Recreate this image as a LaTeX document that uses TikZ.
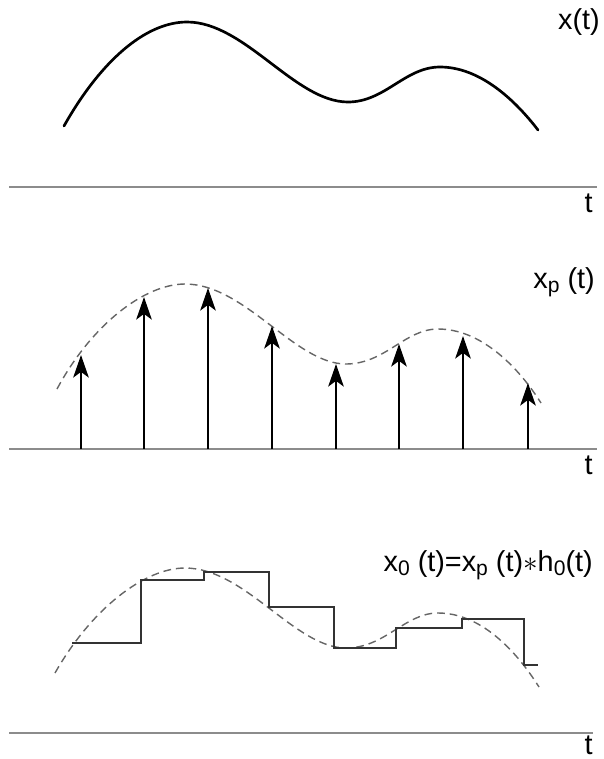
\documentclass[tikz,border=0pt]{standalone}
\usepackage{fontspec}
\setmainfont{Liberation Sans}
\usetikzlibrary{arrows.meta}

% lowered subscript as printed in the labels
\newcommand{\lowsub}[1]{\raisebox{-3pt}{\fontsize{15}{15}\selectfont #1}}

\begin{document}
\begin{tikzpicture}[
            x=0.025cm, y=-0.025cm,
            >={Stealth[length=16pt, width=11pt, inset=4pt]},
            axis/.style={draw=black!45, line width=1.4pt},
            signal/.style={line width=1.9pt, line cap=round},
            envelope/.style={draw=black!60, line width=1pt, dash pattern=on 5.5pt off 3.5pt},
            impulse/.style={->, line width=1.8pt},
            hold/.style={draw=black!80, line width=1.5pt},
            lbl/.style={font=\fontsize{20.5}{24}\selectfont, inner sep=0pt}
        ]

            \useasboundingbox (0,0) rectangle (604,759);

            % Top panel: continuous signal
            \begin{scope}[shift={(0,187)}]
                \draw[axis] (9,0) -- (597,0);
                \draw[signal] (64,-61) .. controls (100,-125) and (145,-165) .. (187,-165)
                    .. controls (245,-165) and (295,-85) .. (348,-85)
                    .. controls (385,-85) and (405,-120) .. (440,-120)
                    .. controls (480,-120) and (515,-87) .. (538,-57);
                \node[lbl, anchor=base east] (xlbl) at (600,-158) {x(t)};
                \node[lbl, anchor=base east] (tone) at (593,25) {t};
            \end{scope}

            % Middle panel: impulse train
            \begin{scope}[shift={(0,449)}]
                \draw[axis] (9,0) -- (597,0);
                \draw[envelope] (57,-60) .. controls (92,-125) and (145,-165) .. (185,-165)
                    .. controls (245,-165) and (295,-85) .. (346,-85)
                    .. controls (385,-85) and (405,-120) .. (438,-120)
                    .. controls (480,-120) and (517,-84) .. (541,-46);
                \draw[impulse] (81,0) -- (81,-94);
                \draw[impulse] (144,0) -- (144,-152);
                \draw[impulse] (208,0) -- (208,-161);
                \draw[impulse] (272,0) -- (272,-123);
                \draw[impulse] (336,0) -- (336,-85);
                \draw[impulse] (399,0) -- (399,-105);
                \draw[impulse] (463,0) -- (463,-113);
                \draw[impulse] (528,0) -- (528,-66);
                \node[lbl, anchor=base east] (xplbl) at (595,-161) {x\lowsub{p} (t)};
                \node[lbl, anchor=base east] (ttwo) at (593,25) {t};
            \end{scope}

            % Bottom panel: zero-order hold
            \begin{scope}[shift={(0,733)}]
                \draw[axis] (9,0) -- (593,0);
                \draw[envelope] (55,-60) .. controls (92,-125) and (145,-165) .. (185,-165)
                    .. controls (245,-165) and (295,-85) .. (346,-85)
                    .. controls (385,-85) and (405,-120) .. (438,-120)
                    .. controls (480,-120) and (515,-84) .. (539,-46);
                \draw[hold] (72,-90) -| (141,-153) -| (204,-161) -| (269,-126)
                    -| (334,-85) -| (396,-105) -| (462,-114) -| (524,-68) -- (538,-68);
                \node[lbl, anchor=base east] (xolbl) at (593,-162)
                    {x\lowsub{0} (t)=x\lowsub{p} (t)$\ast$h\lowsub{0}(t)};
                \node[lbl, anchor=base east] (tthree) at (593,21) {t};
            \end{scope}

        \end{tikzpicture}
\end{document}
